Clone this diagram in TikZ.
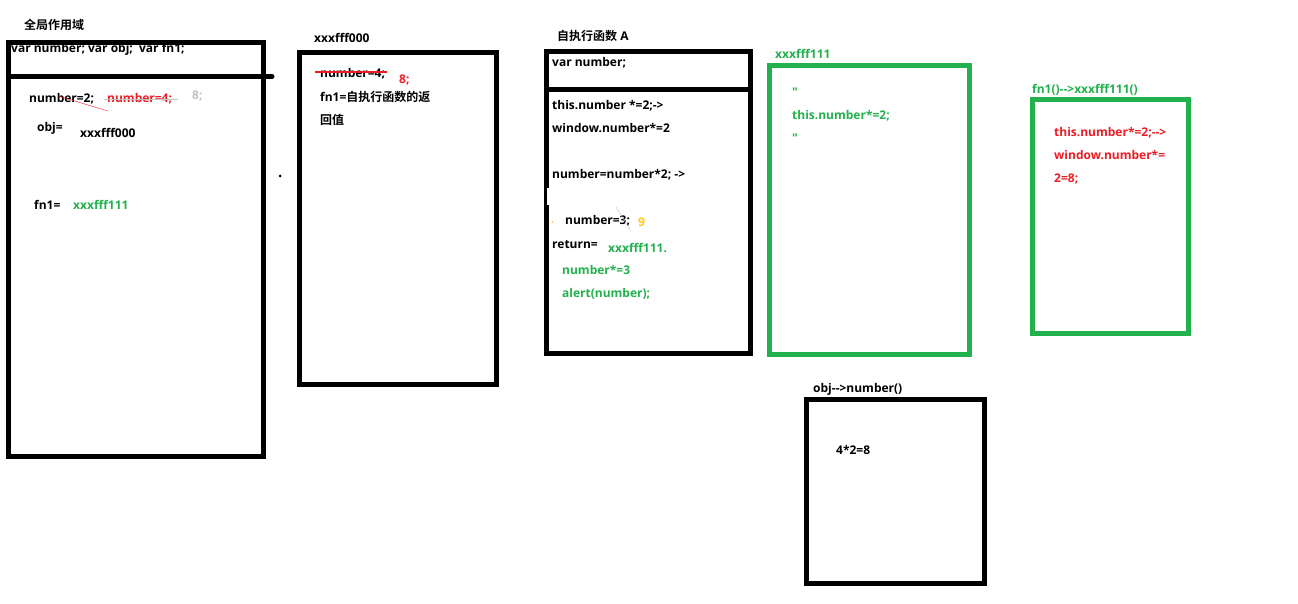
\documentclass[tikz,border=0pt]{standalone}
\usepackage{fontspec}
\setmainfont{Open Sans}[Ligatures=TeXOff]
\newfontfamily\cjk{Noto Sans CJK SC}[UprightFont=* Bold,BoldFont=* Bold]
\usepackage{tikz}
\usepackage{xcolor}

\definecolor{paintgreen}{HTML}{22B14C}
\definecolor{paintred}{HTML}{ED1C24}
\definecolor{paintgray}{HTML}{C3C3C3}
\definecolor{paintorange}{HTML}{FFC90E}

\tikzset{
    code/.style={anchor=base west,inner sep=0pt,font=\fontsize{12}{14}\selectfont\bfseries},
    frame/.style={line width=5pt},
}

\begin{document}
\begin{tikzpicture}[x=1pt,y=-1pt]
    \useasboundingbox[fill=white] (0,0) rectangle (1298,604);
    % frames
    \draw[frame] (8.5,42.5) rectangle (263.5,456.5);
    \draw[frame,line cap=round] (8.5,76.5) -- (272,76.5);
    \draw[frame] (299.5,52.5) rectangle (496.5,384);
    \draw[frame] (546.5,51.5) rectangle (750,353.5);
    \draw[frame] (546.5,89.5) -- (750,89.5);
    \fill[white] (547,188) rectangle (549,205);
    \draw[frame,paintgreen] (769,65.5) rectangle (969.5,354);
    \draw[frame,paintgreen] (1032.5,99.5) rectangle (1188.5,333.5);
    \draw[frame] (806.5,399.5) rectangle (984,583);
    \fill (280,176) circle (1.5);
    % global scope
    \node[code] (gtitle) at (24,30) {\cjk 全局作用域};
    \node[code] (gvars) at (11,53) {var number; var obj;\ \ var fn1;};
    \node[code] (gnum) at (29,103) {number=2;};
    \node[code,paintred] (gnumred) at (107,103) {number=4;};
    \node[code,paintgray] (geight) at (192,100) {8;};
    \node[code] (gobj) at (37,132) {obj=};
    \node[code] (gobjval) at (80,138) {xxxfff000};
    \node[code] (gfn) at (34,210) {fn1=};
    \node[code,paintgreen] (gfnval) at (73,210) {xxxfff111};
    \draw[paintgray] (104,99) -- (178,99);
    \draw[paintred] (58,96) -- (108,111);
    % object xxxfff000
    \node[code] (otitle) at (314,43) {xxxfff000};
    \node[code] (onum) at (320,78) {number=4;};
    \node[code,paintred] (oeight) at (399,84) {8;};
    \node[code] (ofn) at (320,102) {fn1={\cjk 自执行函数的返}};
    \node[code] (ofnb) at (320,125) {\cjk 回值};
    \draw[paintred,line width=1.2pt] (315,72) -- (387,72);
    % function A
    \node[code] (atitle) at (557,41) {{\cjk 自执行函数} A};
    \node[code] (avar) at (552,67) {var number;};
    \node[code] (athis) at (552,110) {this.number *=2;->};
    \node[code] (awin) at (552,133) {window.number*=2};
    \node[code] (anum) at (552,179) {number=number*2; ->};
    \node[code] (athree) at (565,225) {number=3;};
    \node[code,paintorange] (anine) at (638,226) {9};
    \node[code] (aret) at (552,248) {return=};
    \node[code,paintgreen] (aretval) at (608,252) {xxxfff111.};
    \node[code,paintgreen] (amul) at (562,274) {number*=3};
    \node[code,paintgreen] (aalert) at (562,297) {alert(number);};
    \draw[paintgray,thin] (616,207) -- (631,231);
    \fill[paintorange] (552.5,222) circle (0.8);
    % function xxxfff111
    \node[code,paintgreen] (ftitle) at (775,59) {xxxfff111};
    \node[code,paintgreen] (fqa) at (792,97) {"};
    \node[code,paintgreen] (fthis) at (792,120) {this.number*=2;};
    \node[code,paintgreen] (fqb) at (792,143) {"};
    % call fn1
    \node[code,paintgreen] (ctitle) at (1032,94) {fn1()-->xxxfff111()};
    \node[code,paintred] (cthis) at (1054,137) {this.number*=2;-->};
    \node[code,paintred] (cwin) at (1054,160) {window.number*=};
    \node[code,paintred] (cres) at (1054,183) {2=8;};
    % call obj.number
    \node[code] (ntitle) at (813,392) {obj-->number()};
    \node[code] (nres) at (836,454) {4*2=8};
\end{tikzpicture}
\end{document}
